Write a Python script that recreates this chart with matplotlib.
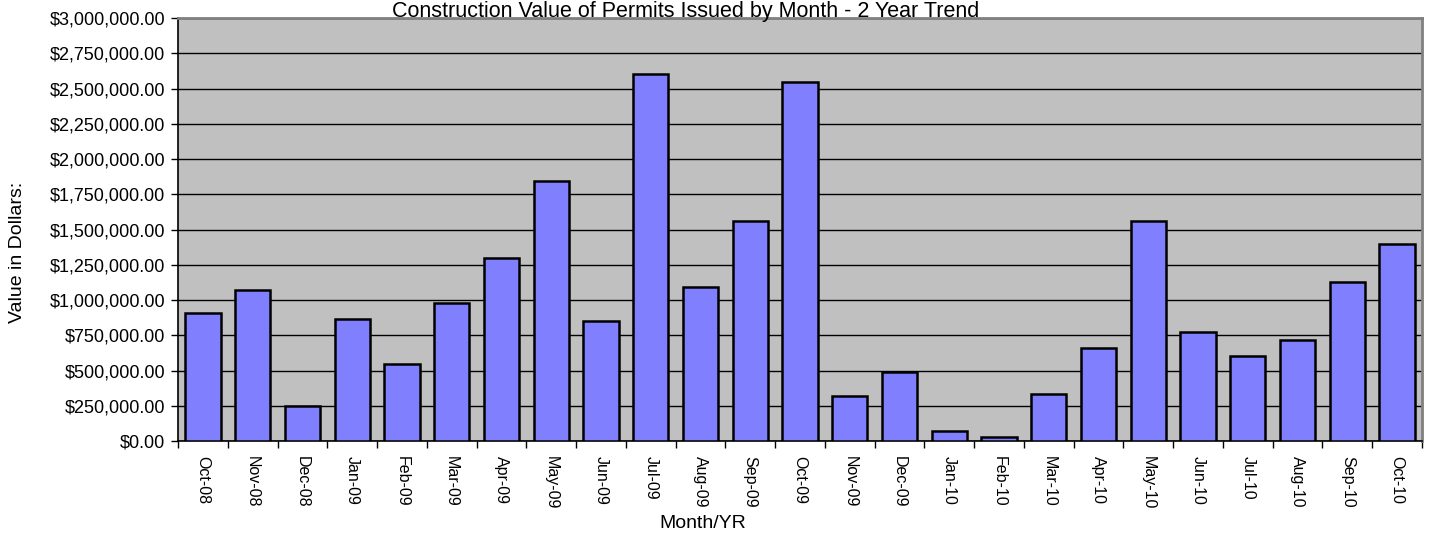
import numpy as np
import matplotlib
matplotlib.use("Agg")
import matplotlib.pyplot as plt
from matplotlib.ticker import FuncFormatter, FixedLocator

# Daten
months = ["Oct-08", "Nov-08", "Dec-08", "Jan-09", "Feb-09", "Mar-09", "Apr-09",
          "May-09", "Jun-09", "Jul-09", "Aug-09", "Sep-09", "Oct-09", "Nov-09",
          "Dec-09", "Jan-10", "Feb-10", "Mar-10", "Apr-10", "May-10", "Jun-10",
          "Jul-10", "Aug-10", "Sep-10", "Oct-10"]
values = [907000, 1072000, 248000, 864000, 545000, 976000, 1300000,
          1846000, 850000, 2600000, 1092000, 1563000, 2546000, 320000,
          488000, 73000, 31000, 335000, 658000, 1563000, 771000,
          600000, 714000, 1128000, 1397000]
y_ticks = np.arange(0, 3000001, 250000)

plt.rcParams["font.family"] = ["Liberation Sans", "DejaVu Sans"]

fig = plt.figure(figsize=(14.31, 5.36), dpi=100)
ax = fig.add_axes([0.1244, 0.1772, 0.8693, 0.7892])
ax.set_facecolor("#C0C0C0")

x = np.arange(len(months))
ax.bar(x, values, width=0.71, color="#8080FF", edgecolor="black", linewidth=1.8, zorder=3)

ax.set_xlim(-0.5, len(months) - 0.5)
ax.set_ylim(0, 3000000)
ax.set_yticks(y_ticks)
ax.yaxis.set_major_formatter(FuncFormatter(lambda v, p: "${:,.2f}".format(v)))
ax.grid(axis="y", color="black", linewidth=1.0, zorder=1)

# Tickmarks zwischen den Kategorien, Beschriftung in der Mitte
ax.xaxis.set_major_locator(FixedLocator(np.arange(len(months) + 1) - 0.5))
ax.xaxis.set_major_formatter(FuncFormatter(lambda v, p: ""))
ax.set_xticks(x, minor=True)
ax.set_xticklabels(months, minor=True, rotation=270, fontsize=11.5)
ax.tick_params(axis="x", which="minor", length=0, pad=11)
ax.tick_params(axis="x", which="major", length=5, width=1, color="black")
ax.tick_params(axis="y", length=5, width=1, labelsize=13, pad=4)

for side in ["left", "bottom"]:
    ax.spines[side].set_color("black")
    ax.spines[side].set_linewidth(1.2)
for side in ["top", "right"]:
    ax.spines[side].set_color("#808080")
    ax.spines[side].set_linewidth(2)

fig.text(703 / 1431, 1 - 524 / 536, "Month/YR", ha="center", va="center", fontsize=14)
fig.text(18 / 1431, 1 - 252 / 536, "Value in Dollars:", ha="center", va="center",
         rotation=90, fontsize=14)
fig.text(686 / 1431, 1 - 16.5 / 536, "Construction Value of Permits Issued by Month - 2 Year Trend",
         ha="center", va="baseline", fontsize=15.5, zorder=5)

fig.savefig("out.png", dpi=100)
